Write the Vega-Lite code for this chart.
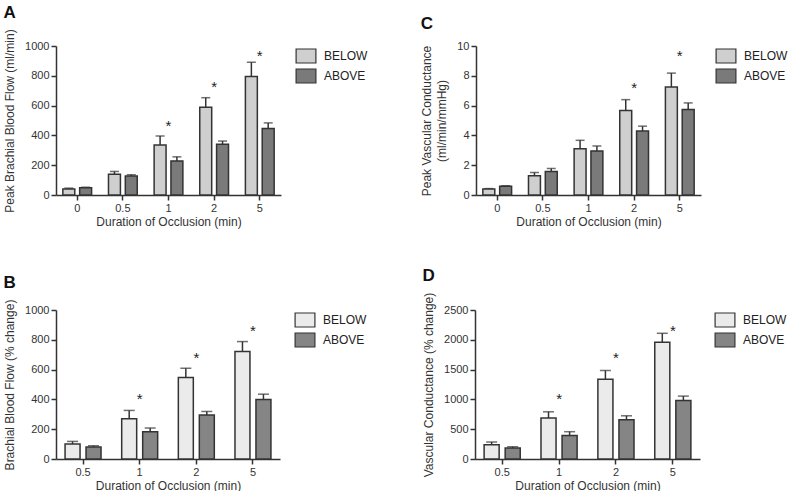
{
  "$schema": "https://vega.github.io/schema/vega-lite/v6.json",
  "padding": {"left": 3, "top": 3, "right": 0, "bottom": 0},
  "datasets": {
    "A": [
      {"t": "0", "g": "BELOW", "v": 40, "hi": 46},
      {"t": "0", "g": "ABOVE", "v": 48, "hi": 52},
      {"t": "0.5", "g": "BELOW", "v": 140, "hi": 158},
      {"t": "0.5", "g": "ABOVE", "v": 127, "hi": 136},
      {"t": "1", "g": "BELOW", "v": 336, "hi": 396},
      {"t": "1", "g": "ABOVE", "v": 229, "hi": 256},
      {"t": "2", "g": "BELOW", "v": 589, "hi": 653},
      {"t": "2", "g": "ABOVE", "v": 340, "hi": 362},
      {"t": "5", "g": "BELOW", "v": 796, "hi": 891},
      {"t": "5", "g": "ABOVE", "v": 447, "hi": 484}
    ],
    "C": [
      {"t": "0", "g": "BELOW", "v": 0.4, "hi": 0.43},
      {"t": "0", "g": "ABOVE", "v": 0.58, "hi": 0.62},
      {"t": "0.5", "g": "BELOW", "v": 1.29, "hi": 1.51},
      {"t": "0.5", "g": "ABOVE", "v": 1.58, "hi": 1.78},
      {"t": "1", "g": "BELOW", "v": 3.11, "hi": 3.67},
      {"t": "1", "g": "ABOVE", "v": 2.96, "hi": 3.29},
      {"t": "2", "g": "BELOW", "v": 5.67, "hi": 6.4},
      {"t": "2", "g": "ABOVE", "v": 4.29, "hi": 4.62},
      {"t": "5", "g": "BELOW", "v": 7.24, "hi": 8.18},
      {"t": "5", "g": "ABOVE", "v": 5.73, "hi": 6.18}
    ],
    "B": [
      {"t": "0.5", "g": "BELOW", "v": 100, "hi": 118},
      {"t": "0.5", "g": "ABOVE", "v": 80, "hi": 89},
      {"t": "1", "g": "BELOW", "v": 270, "hi": 326},
      {"t": "1", "g": "ABOVE", "v": 183, "hi": 208},
      {"t": "2", "g": "BELOW", "v": 547, "hi": 609},
      {"t": "2", "g": "ABOVE", "v": 295, "hi": 319},
      {"t": "5", "g": "BELOW", "v": 721, "hi": 788},
      {"t": "5", "g": "ABOVE", "v": 400, "hi": 435}
    ],
    "D": [
      {"t": "0.5", "g": "BELOW", "v": 240, "hi": 285},
      {"t": "0.5", "g": "ABOVE", "v": 184, "hi": 206},
      {"t": "1", "g": "BELOW", "v": 686, "hi": 792},
      {"t": "1", "g": "ABOVE", "v": 396, "hi": 458},
      {"t": "2", "g": "BELOW", "v": 1339, "hi": 1484},
      {"t": "2", "g": "ABOVE", "v": 658, "hi": 725},
      {"t": "5", "g": "BELOW", "v": 1959, "hi": 2109},
      {"t": "5", "g": "ABOVE", "v": 982, "hi": 1055}
    ],
    "sA": [{"t": "1", "s": 480}, {"t": "2", "s": 742}, {"t": "5", "s": 956}],
    "sC": [{"t": "2", "s": 7.4}, {"t": "5", "s": 9.55}],
    "sB": [{"t": "1", "s": 425}, {"t": "2", "s": 698}, {"t": "5", "s": 881}],
    "sD": [{"t": "1", "s": 1062}, {"t": "2", "s": 1745}, {"t": "5", "s": 2203}]
  },
  "resolve": {"scale": {"x": "independent", "y": "independent", "xOffset": "independent", "fill": "independent"}, "legend": {"fill": "independent"}},
  "spacing": 40,
  "vconcat": [
    {
      "spacing": 52,
      "resolve": {"scale": {"x": "independent", "y": "independent", "xOffset": "independent", "fill": "independent"}, "legend": {"fill": "independent"}},
      "hconcat": [
        {
          "title": "A",
          "width": 225, "height": 149,
          "layer": [
            {
              "data": {"name": "A"},
              "mark": {"type": "rule", "color": "#333", "strokeWidth": 1.5},
              "encoding": {
                "x": {"field": "t", "type": "nominal", "scale": {"domain": ["0", "0.5", "1", "2", "5"], "paddingInner": 0.37, "paddingOuter": 0.15}, "axis": {"title": "Duration of Occlusion (min)"}},
                "xOffset": {"field": "g", "type": "nominal", "scale": {"domain": ["BELOW", "ABOVE"], "paddingInner": 0.29, "paddingOuter": 0}},
                "y": {"field": "v", "type": "quantitative", "scale": {"domain": [0, 1000], "nice": false}, "axis": {"title": "Peak Brachial Blood Flow (ml/min)", "values": [0, 200, 400, 600, 800, 1000], "tickCount": 6, "format": "d"}},
                "y2": {"field": "hi"}
              }
            },
            {
              "data": {"name": "A"},
              "mark": {"type": "tick", "color": "#333", "thickness": 1.5, "size": 9},
              "encoding": {
                "x": {"field": "t", "type": "nominal", "axis": {"title": "Duration of Occlusion (min)"}},
                "xOffset": {"field": "g", "type": "nominal"},
                "y": {"field": "hi", "type": "quantitative", "axis": {"title": "Peak Brachial Blood Flow (ml/min)", "values": [0, 200, 400, 600, 800, 1000], "tickCount": 6, "format": "d"}}
              }
            },
            {
              "data": {"name": "A"},
              "mark": {"type": "bar", "stroke": "#333", "strokeWidth": 1.5},
              "encoding": {
                "x": {"field": "t", "type": "nominal", "axis": {"title": "Duration of Occlusion (min)"}},
                "xOffset": {"field": "g", "type": "nominal"},
                "y": {"field": "v", "type": "quantitative", "axis": {"title": "Peak Brachial Blood Flow (ml/min)", "values": [0, 200, 400, 600, 800, 1000], "tickCount": 6, "format": "d"}},
                "fill": {"field": "g", "type": "nominal", "scale": {"domain": ["BELOW", "ABOVE"], "range": ["#cfcfcf", "#7a7a7a"]}}
              }
            },
            {
              "data": {"name": "sA"},
              "mark": {"type": "text", "text": "*", "fontSize": 15, "dy": 8, "baseline": "alphabetic", "color": "#222"},
              "encoding": {
                "x": {"field": "t", "type": "nominal", "axis": {"title": "Duration of Occlusion (min)"}},
                "y": {"field": "s", "type": "quantitative", "axis": {"title": "Peak Brachial Blood Flow (ml/min)", "values": [0, 200, 400, 600, 800, 1000], "tickCount": 6, "format": "d"}}
              }
            }
          ]
        },
        {
          "title": "C",
          "width": 225, "height": 149,
          "layer": [
            {
              "data": {"name": "C"},
              "mark": {"type": "rule", "color": "#333", "strokeWidth": 1.5},
              "encoding": {
                "x": {"field": "t", "type": "nominal", "scale": {"domain": ["0", "0.5", "1", "2", "5"], "paddingInner": 0.37, "paddingOuter": 0.15}, "axis": {"title": "Duration of Occlusion (min)"}},
                "xOffset": {"field": "g", "type": "nominal", "scale": {"domain": ["BELOW", "ABOVE"], "paddingInner": 0.29, "paddingOuter": 0}},
                "y": {"field": "v", "type": "quantitative", "scale": {"domain": [0, 10], "nice": false}, "axis": {"title": ["Peak Vascular Conductance", "(ml/min/mmHg)"], "titleLineHeight": 15, "values": [0, 2, 4, 6, 8, 10], "tickCount": 6}},
                "y2": {"field": "hi"}
              }
            },
            {
              "data": {"name": "C"},
              "mark": {"type": "tick", "color": "#333", "thickness": 1.5, "size": 9},
              "encoding": {
                "x": {"field": "t", "type": "nominal", "axis": {"title": "Duration of Occlusion (min)"}},
                "xOffset": {"field": "g", "type": "nominal"},
                "y": {"field": "hi", "type": "quantitative", "axis": {"title": ["Peak Vascular Conductance", "(ml/min/mmHg)"], "titleLineHeight": 15, "values": [0, 2, 4, 6, 8, 10], "tickCount": 6}}
              }
            },
            {
              "data": {"name": "C"},
              "mark": {"type": "bar", "stroke": "#333", "strokeWidth": 1.5},
              "encoding": {
                "x": {"field": "t", "type": "nominal", "axis": {"title": "Duration of Occlusion (min)"}},
                "xOffset": {"field": "g", "type": "nominal"},
                "y": {"field": "v", "type": "quantitative", "axis": {"title": ["Peak Vascular Conductance", "(ml/min/mmHg)"], "titleLineHeight": 15, "values": [0, 2, 4, 6, 8, 10], "tickCount": 6}},
                "fill": {"field": "g", "type": "nominal", "scale": {"domain": ["BELOW", "ABOVE"], "range": ["#cfcfcf", "#7a7a7a"]}}
              }
            },
            {
              "data": {"name": "sC"},
              "mark": {"type": "text", "text": "*", "fontSize": 15, "dy": 8, "baseline": "alphabetic", "color": "#222"},
              "encoding": {
                "x": {"field": "t", "type": "nominal", "axis": {"title": "Duration of Occlusion (min)"}},
                "y": {"field": "s", "type": "quantitative", "axis": {"title": ["Peak Vascular Conductance", "(ml/min/mmHg)"], "titleLineHeight": 15, "values": [0, 2, 4, 6, 8, 10], "tickCount": 6}}
              }
            }
          ]
        }
      ]
    },
    {
      "spacing": 55,
      "resolve": {"scale": {"x": "independent", "y": "independent", "xOffset": "independent", "fill": "independent"}, "legend": {"fill": "independent"}},
      "hconcat": [
        {
          "title": "B",
          "width": 224, "height": 149,
          "layer": [
            {
              "data": {"name": "B"},
              "mark": {"type": "rule", "color": "#333", "strokeWidth": 1.5},
              "encoding": {
                "x": {"field": "t", "type": "nominal", "scale": {"domain": ["0.5", "1", "2", "5"], "paddingInner": 0.365, "paddingOuter": 0.16}, "axis": {"title": "Duration of Occlusion (min)"}},
                "xOffset": {"field": "g", "type": "nominal", "scale": {"domain": ["BELOW", "ABOVE"], "paddingInner": 0.286, "paddingOuter": 0}},
                "y": {"field": "v", "type": "quantitative", "scale": {"domain": [0, 1000], "nice": false}, "axis": {"title": "Brachial Blood Flow (% change)", "values": [0, 200, 400, 600, 800, 1000], "tickCount": 6, "format": "d"}},
                "y2": {"field": "hi"}
              }
            },
            {
              "data": {"name": "B"},
              "mark": {"type": "tick", "color": "#333", "thickness": 1.5, "size": 11},
              "encoding": {
                "x": {"field": "t", "type": "nominal", "axis": {"title": "Duration of Occlusion (min)"}},
                "xOffset": {"field": "g", "type": "nominal"},
                "y": {"field": "hi", "type": "quantitative", "axis": {"title": "Brachial Blood Flow (% change)", "values": [0, 200, 400, 600, 800, 1000], "tickCount": 6, "format": "d"}}
              }
            },
            {
              "data": {"name": "B"},
              "mark": {"type": "bar", "stroke": "#333", "strokeWidth": 1.5},
              "encoding": {
                "x": {"field": "t", "type": "nominal", "axis": {"title": "Duration of Occlusion (min)"}},
                "xOffset": {"field": "g", "type": "nominal"},
                "y": {"field": "v", "type": "quantitative", "axis": {"title": "Brachial Blood Flow (% change)", "values": [0, 200, 400, 600, 800, 1000], "tickCount": 6, "format": "d"}},
                "fill": {"field": "g", "type": "nominal", "scale": {"domain": ["BELOW", "ABOVE"], "range": ["#ebebeb", "#858585"]}}
              }
            },
            {
              "data": {"name": "sB"},
              "mark": {"type": "text", "text": "*", "fontSize": 15, "dy": 8, "baseline": "alphabetic", "color": "#222"},
              "encoding": {
                "x": {"field": "t", "type": "nominal", "axis": {"title": "Duration of Occlusion (min)"}},
                "y": {"field": "s", "type": "quantitative", "axis": {"title": "Brachial Blood Flow (% change)", "values": [0, 200, 400, 600, 800, 1000], "tickCount": 6, "format": "d"}}
              }
            }
          ]
        },
        {
          "title": "D",
          "width": 225, "height": 149,
          "layer": [
            {
              "data": {"name": "D"},
              "mark": {"type": "rule", "color": "#333", "strokeWidth": 1.5},
              "encoding": {
                "x": {"field": "t", "type": "nominal", "scale": {"domain": ["0.5", "1", "2", "5"], "paddingInner": 0.365, "paddingOuter": 0.16}, "axis": {"title": "Duration of Occlusion (min)"}},
                "xOffset": {"field": "g", "type": "nominal", "scale": {"domain": ["BELOW", "ABOVE"], "paddingInner": 0.286, "paddingOuter": 0}},
                "y": {"field": "v", "type": "quantitative", "scale": {"domain": [0, 2500], "nice": false}, "axis": {"title": "Vascular Conductance (% change)", "values": [0, 500, 1000, 1500, 2000, 2500], "tickCount": 6, "format": "d"}},
                "y2": {"field": "hi"}
              }
            },
            {
              "data": {"name": "D"},
              "mark": {"type": "tick", "color": "#333", "thickness": 1.5, "size": 11},
              "encoding": {
                "x": {"field": "t", "type": "nominal", "axis": {"title": "Duration of Occlusion (min)"}},
                "xOffset": {"field": "g", "type": "nominal"},
                "y": {"field": "hi", "type": "quantitative", "axis": {"title": "Vascular Conductance (% change)", "values": [0, 500, 1000, 1500, 2000, 2500], "tickCount": 6, "format": "d"}}
              }
            },
            {
              "data": {"name": "D"},
              "mark": {"type": "bar", "stroke": "#333", "strokeWidth": 1.5},
              "encoding": {
                "x": {"field": "t", "type": "nominal", "axis": {"title": "Duration of Occlusion (min)"}},
                "xOffset": {"field": "g", "type": "nominal"},
                "y": {"field": "v", "type": "quantitative", "axis": {"title": "Vascular Conductance (% change)", "values": [0, 500, 1000, 1500, 2000, 2500], "tickCount": 6, "format": "d"}},
                "fill": {"field": "g", "type": "nominal", "scale": {"domain": ["BELOW", "ABOVE"], "range": ["#ebebeb", "#858585"]}}
              }
            },
            {
              "data": {"name": "sD"},
              "mark": {"type": "text", "text": "*", "fontSize": 15, "dy": 8, "baseline": "alphabetic", "color": "#222"},
              "encoding": {
                "x": {"field": "t", "type": "nominal", "axis": {"title": "Duration of Occlusion (min)"}},
                "y": {"field": "s", "type": "quantitative", "axis": {"title": "Vascular Conductance (% change)", "values": [0, 500, 1000, 1500, 2000, 2500], "tickCount": 6, "format": "d"}}
              }
            }
          ]
        }
      ]
    }
  ],
  "config": {
    "font": "Liberation Sans",
    "view": {"stroke": null},
    "axis": {"domainColor": "#333", "tickColor": "#333", "labelColor": "#333", "titleColor": "#333", "grid": false, "labelFontSize": 11, "titleFontSize": 12, "titleFontWeight": "normal", "tickSize": 5, "labelPadding": 2, "domainWidth": 1.5, "tickWidth": 1.5, "labelOverlap": false, "labelFlush": false},
    "axisX": {"labelAngle": 0, "titlePadding": 3},
    "axisY": {"titlePadding": 8},
    "title": {"fontSize": 17, "fontWeight": "bold", "anchor": "start", "frame": "bounds", "color": "#111", "offset": 7},
    "legend": {"orient": "right", "offset": 15, "title": null, "labelFontSize": 12, "labelColor": "#222", "symbolType": "M-1.1,-0.78H1.1V0.78H-1.1Z", "symbolSize": 324, "symbolStrokeColor": "#333", "symbolStrokeWidth": 1.2, "symbolOpacity": 1, "rowPadding": 0, "labelOffset": 8, "padding": 0}
  }
}
